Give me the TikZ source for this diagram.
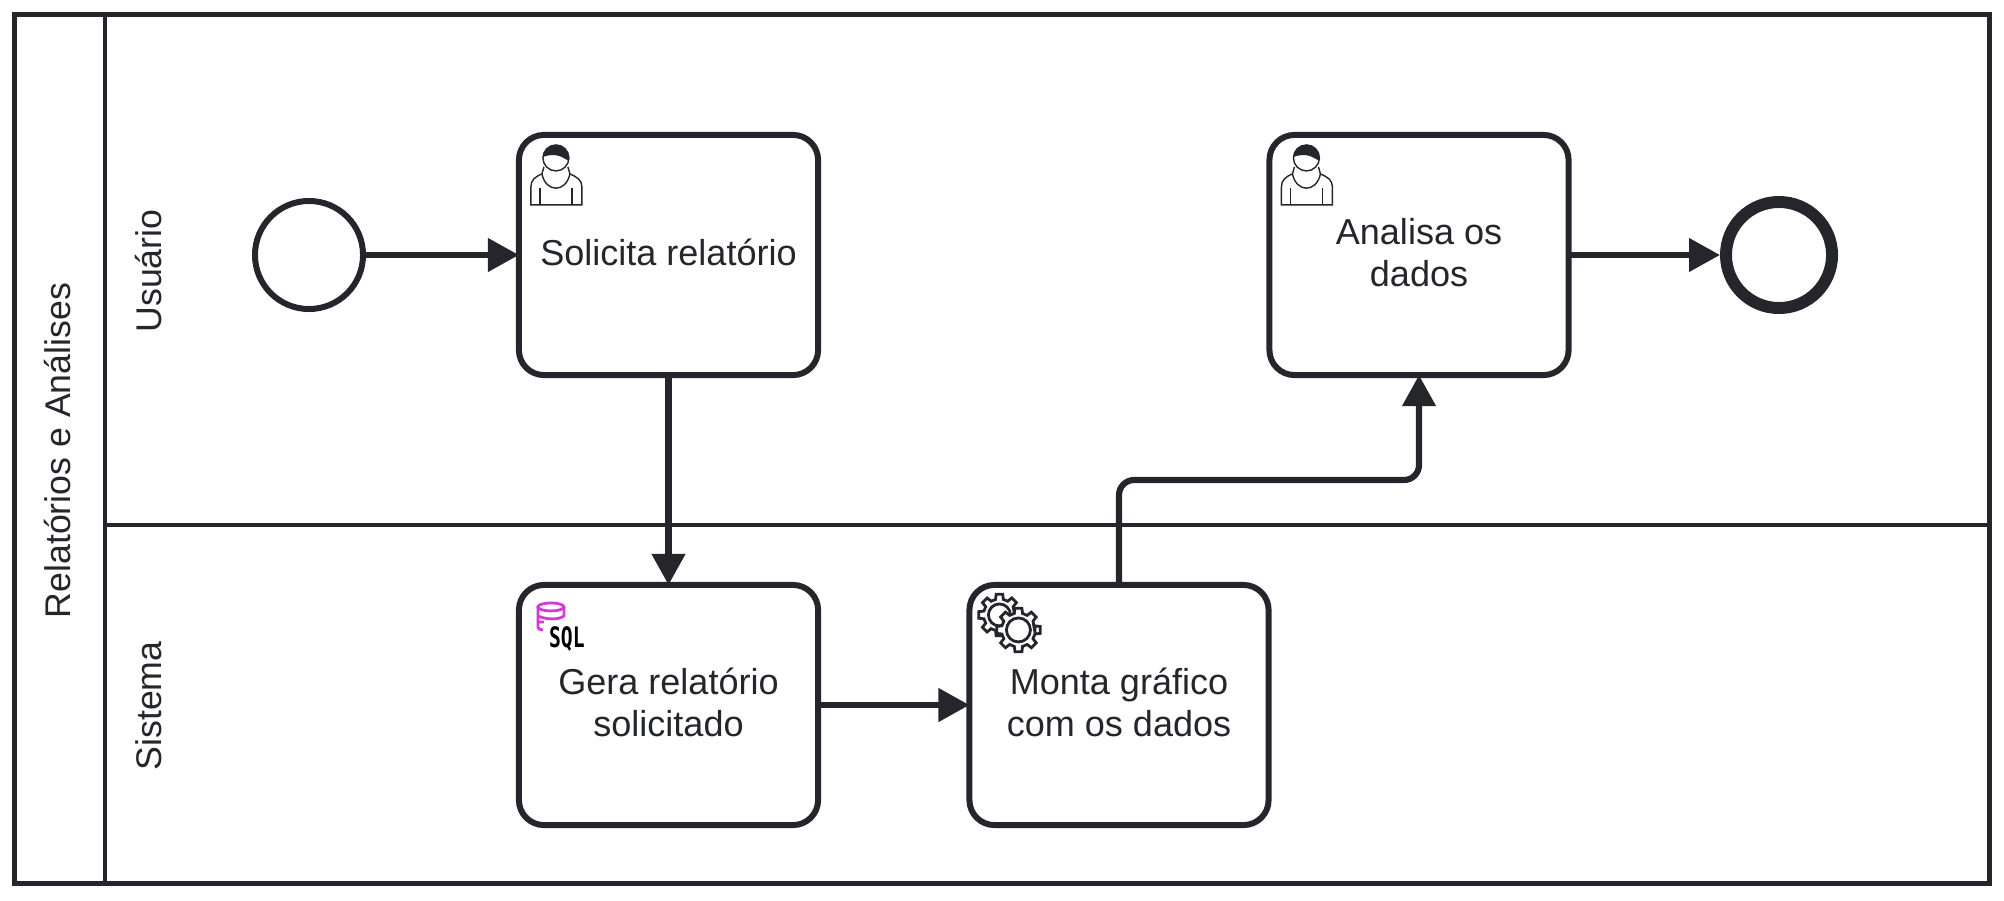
\documentclass[tikz,border=0pt]{standalone}
\usepackage{fontspec}
\setmainfont{Liberation Sans}
\newfontfamily\sqlfont{DejaVu Sans Mono}
\usetikzlibrary{arrows.meta}
\definecolor{ink}{HTML}{25262B}
\definecolor{sqlpink}{HTML}{D43AD6}
\tikzstyle{every picture}=[x=0.01cm, y=-0.01cm, >={Triangle[length=8.8pt,width=9.2pt]}]
\tikzstyle{task}=[draw=ink, fill=white, line width=1.7pt, rounded corners=0.25cm, outer sep=0pt,%
	minimum width=2.99cm, minimum height=2.4cm, align=center, text=ink, text depth=0.06cm,%
	font=\fontsize{10.25}{11.95}\selectfont]
\tikzstyle{start}=[circle, draw=ink, line width=1.7pt, minimum size=1.08cm, outer sep=0pt]
\tikzstyle{finish}=[circle, draw=ink, line width=3.4pt, minimum size=1.06cm, outer sep=1.7pt]
\tikzstyle{lane}=[rotate=90, text=ink, font=\fontsize{10.15}{11.95}\selectfont]
\tikzstyle{flow}=[->, color=ink, line width=1.75pt]
\tikzstyle{border}=[draw=ink, line width=1.3pt]
\tikzstyle{thin}=[draw=ink, line width=0.4pt]
\tikzset{
	usericon/.pic={
		\draw[thin] (23,39) .. controls (16,42) and (12,45) .. (12,52) -- (12,70) -- (63,70)%
			-- (63,52) .. controls (63,45) and (58,42) .. (51,39);
		\draw[thin] (23,39) .. controls (27,58) and (47,58) .. (51,39);
		\draw[thin] (21,53) -- (21,70) (53,53) -- (53,70);
		\draw[thin] (25,32) -- (23,39) (49,32) -- (51,39);
		\draw[thin] (37,23) circle (13);
		\fill[ink] (24,22) arc[start angle=184, end angle=373, radius=13]%
			.. controls (44,23) and (38,17) .. (24,22);
	},
	gearicon/.pic={
		\foreach \cx/\cy/\rad in {30/30/21,49/45/22} {
			\draw[draw=ink, fill=white, line width=0.8pt, shift={(\cx,\cy)}] (11:\rad-5)%
				\foreach \a in {0,45,...,315} {
					-- (\a-14:\rad-5) -- (\a-9:\rad) -- (\a+9:\rad) -- (\a+14:\rad-5)
				} -- cycle;
			\draw[draw=ink, line width=0.8pt] (\cx,\cy) circle (\rad-10);
		}
	},
	sqlicon/.pic={
		\draw[draw=sqlpink, line width=0.8pt] (32,22) ellipse (13 and 4);
		\draw[draw=sqlpink, line width=0.8pt] (45,22) -- (45,31) .. controls (40,35) and (28,35) .. (19,31)%
			(19,22) -- (19,42) .. controls (19,44) and (21,45) .. (24,45) (19,37) -- (25,37);
		\node[text=black] (sqltext) at (48,54) {\sqlfont\bfseries\fontsize{8}{9}\selectfont\scalebox{.7}[1]{SQL}};
	}
}
\begin{document}
\begin{tikzpicture}
\useasboundingbox (0,0) rectangle (2004,900);
\node[border, minimum width=19.74cm, minimum height=8.68cm, outer sep=0pt] (pool) at (1002,449) {};
\coordinate (tophead) at (105,15);
\coordinate (bottomhead) at (105,883);
\coordinate (lanewest) at (105,525);
\draw[border] (tophead) -- (bottomhead);
\draw[border] (lanewest) -- (lanewest -| pool.east);
\node[lane] (poolname) at (58,450.5) {Relatórios e Análises};
\node[lane] (usuario) at (149,271) {Usuário};
\node[lane] (sistema) at (149,706) {Sistema};
\node[start] (s) at (309,255) {};
\node[task] (t1) at (668.5,255) {Solicita relatório};
\node[task] (t4) at (1419,255) {Analisa os\\dados};
\node[finish] (e) at (1779,255) {};
\node[task] (t2) at (668.5,705) {Gera relatório\\solicitado};
\node[task] (t3) at (1119,705) {Monta gráfico\\com os dados};
\coordinate (bend) at (1269,480);
\pic at (t1.north west) {usericon};
\pic at (t4.north west) {usericon};
\pic at (t2.north west) {sqlicon};
\pic at (t3.north west) {gearicon};
\path[flow] (s) edge (t1);
\path[flow] (t1) edge (t2);
\path[flow] (t2) edge (t3);
\path[flow] (t4) edge (e);
\draw[flow, rounded corners=0.15cm] (t3.north) |- (bend) -| (t4.south);
\end{tikzpicture}
\end{document}
